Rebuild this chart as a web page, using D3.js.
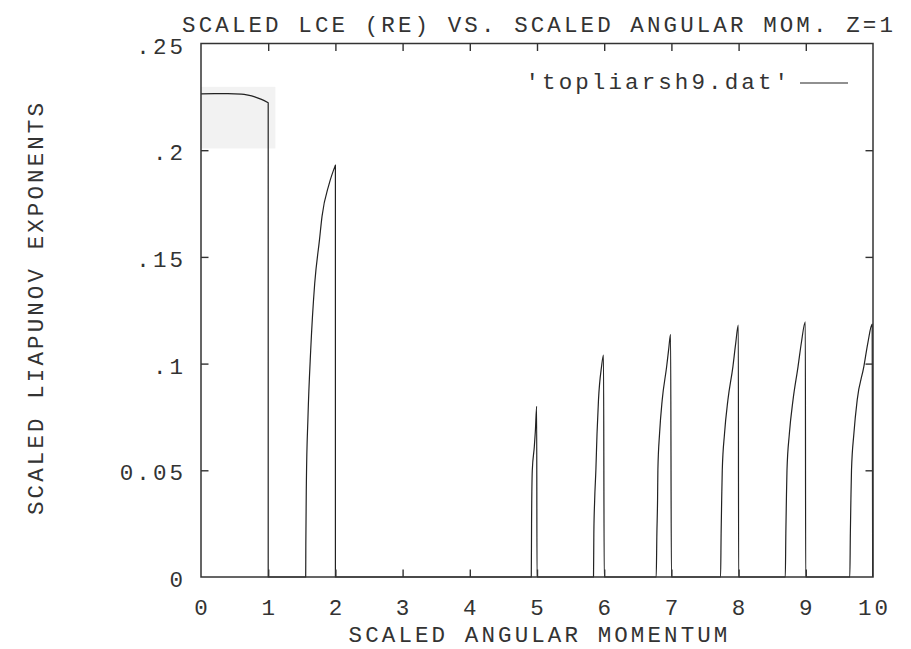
<!DOCTYPE html>
<html>
<head>
<meta charset="utf-8">
<script src="https://cdn.jsdelivr.net/npm/d3@7"></script>
<style>
  html, body { margin: 0; padding: 0; background: #fff; }
  svg text { font-family: "Liberation Mono", "DejaVu Sans Mono", monospace; fill: #333; }
</style>
</head>
<body>
<svg id="chart" width="911" height="649"></svg>
<script>
// Scaled angular momentum (x) and scaled Liapunov exponent (y), from topliarsh9.dat
const momentum = [
  0, 0.2, 0.4, 0.6, 0.7, 0.8, 0.9, 1.0, 1.0,
  1.558, 1.560, 1.568, 1.592, 1.632, 1.692, 1.763, 1.801, 1.905, 2.0, 2.0,
  4.915, 4.919, 4.93, 4.96, 4.975, 4.995, 5.0,
  5.841, 5.846, 5.858, 5.876, 5.893, 5.915, 5.96, 5.99, 6.0,
  6.774, 6.784, 6.794, 6.799, 6.824, 6.863, 6.929, 6.958, 6.988, 7.0,
  7.732, 7.740, 7.748, 7.757, 7.790, 7.841, 7.915, 7.955, 7.996, 8.0,
  8.695, 8.703, 8.711, 8.720, 8.755, 8.810, 8.884, 8.935, 8.993, 8.998,
  9.655, 9.663, 9.671, 9.680, 9.715, 9.765, 9.863, 9.925, 9.988, 9.995
];
const exponent = [
  0.2264, 0.2265, 0.2265, 0.2263, 0.2258, 0.2250, 0.2238, 0.2222, 0,
  0, 0.015, 0.044, 0.075, 0.106, 0.1375, 0.158, 0.169, 0.184, 0.193, 0,
  0, 0.025, 0.05, 0.061, 0.068, 0.080, 0,
  0, 0.0205, 0.036, 0.05, 0.067, 0.083, 0.0985, 0.104, 0,
  0, 0.0205, 0.036, 0.0504, 0.0673, 0.0829, 0.0985, 0.1063, 0.1137, 0,
  0, 0.0205, 0.036, 0.05, 0.067, 0.083, 0.0985, 0.109, 0.118, 0,
  0, 0.0205, 0.036, 0.05, 0.067, 0.083, 0.0985, 0.110, 0.1196, 0,
  0, 0.0205, 0.036, 0.05, 0.067, 0.083, 0.0985, 0.110, 0.1185, 0
];
const xTicks = [0, 1, 2, 3, 4, 5, 6, 7, 8, 9, 10];
const xTickLabels = ["0", "1", "2", "3", "4", "5", "6", "7", "8", "9", "10"];
const yTicks = [0, 0.05, 0.1, 0.15, 0.2, 0.25];
const yTickLabels = ["0", "0.05", ".1", ".15", ".2", ".25"];
const titleText = "SCALED LCE (RE) VS. SCALED ANGULAR MOM. Z=1";
const xLabel = "SCALED ANGULAR MOMENTUM";
const yLabel = "SCALED LIAPUNOV EXPONENTS";
const legendText = "'topliarsh9.dat'";
// faint grey patch in the upper-left corner of the plot
const patchX = [0, 1.107];
const patchY = [0.2008, 0.2297];

(function draw() {
  const svg = d3.select("#chart");
  const pL = 201, pR = 873, pT = 43.5, pB = 577;
  const x = d3.scaleLinear().domain([0, 10]).range([pL, pR]);
  const y = d3.scaleLinear().domain([0, 0.25]).range([pB, pT]);
  // narrow glyphs spread out to a wide typewriter pitch
  const fs = 22.5, ls = 3.1;
  const txt = sel => sel.attr("font-size", fs).attr("letter-spacing", ls);

  // grey patch
  svg.append("rect")
    .attr("x", x(patchX[0]))
    .attr("y", y(patchY[1]))
    .attr("width", x(patchX[1]) - x(patchX[0]))
    .attr("height", y(patchY[0]) - y(patchY[1]))
    .attr("fill", "#f2f2f2");

  // data line: split into runs of increasing x (smooth), joined by vertical drops
  const pts = momentum.map((m, i) => [m, exponent[i]]);
  const runs = [];
  pts.forEach((p, i) => {
    if (i === 0 || p[0] <= pts[i - 1][0]) runs.push([p]);
    else runs[runs.length - 1].push(p);
  });
  const line = d3.line().x(d => x(d[0])).y(d => y(d[1])).curve(d3.curveMonotoneX);
  const d = runs.map((r, i) => {
    const s = r.length > 1 ? line(r) : `M${x(r[0][0])},${y(r[0][1])}`;
    return i === 0 ? s : "L" + s.slice(1);
  }).join("");
  svg.append("path")
    .attr("d", d)
    .attr("fill", "none")
    .attr("stroke", "#222")
    .attr("stroke-width", 1.2)
    .attr("stroke-linejoin", "round");

  // frame with inward ticks on all four sides
  const tickLen = 7.5;
  svg.append("rect")
    .attr("x", x(0)).attr("y", y(0.25))
    .attr("width", x(10) - x(0)).attr("height", y(0) - y(0.25))
    .attr("fill", "none").attr("stroke", "#333").attr("stroke-width", 1.5);

  const inner = xTicks.slice(1, -1), innerY = yTicks.slice(1, -1);
  const axes = [
    [d3.axisBottom(x).tickValues(inner), `translate(0,${pB})`],
    [d3.axisTop(x).tickValues(inner), `translate(0,${pT})`],
    [d3.axisLeft(y).tickValues(innerY), `translate(${pL},0)`],
    [d3.axisRight(y).tickValues(innerY), `translate(${pR},0)`]
  ];
  axes.forEach(([ax, tr]) => {
    const g = svg.append("g").attr("transform", tr)
      .call(ax.tickSize(-tickLen).tickFormat(""));
    g.select(".domain").remove();
    g.selectAll("line").attr("stroke", "#333").attr("stroke-width", 1.4);
  });

  // tick labels (trailing letter-spacing is offset by half/full ls)
  svg.append("g").selectAll("text").data(xTicks).join("text")
    .attr("x", v => x(v) + ls / 2).attr("y", 615)
    .attr("text-anchor", "middle").call(txt)
    .text((v, i) => xTickLabels[i]);
  svg.append("g").selectAll("text").data(yTicks).join("text")
    .attr("x", 183 + ls).attr("y", v => y(v) + 10)
    .attr("text-anchor", "end").call(txt)
    .text((v, i) => yTickLabels[i]);

  // titles
  svg.append("text").attr("x", 537.5 + ls / 2).attr("y", 32)
    .attr("text-anchor", "middle").call(txt).text(titleText);
  svg.append("text").attr("x", 538 + ls / 2).attr("y", 642)
    .attr("text-anchor", "middle").call(txt).text(xLabel);
  svg.append("text").attr("transform", `translate(42.5,${309 - ls / 2}) rotate(-90)`)
    .attr("text-anchor", "middle").call(txt).text(yLabel);

  // legend
  svg.append("text").attr("x", 788 + ls).attr("y", 89)
    .attr("text-anchor", "end").call(txt).text(legendText);
  svg.append("line")
    .attr("x1", 800).attr("x2", 848).attr("y1", 83).attr("y2", 83)
    .attr("stroke", "#222").attr("stroke-width", 1.2);
})();
</script>
</body>
</html>
